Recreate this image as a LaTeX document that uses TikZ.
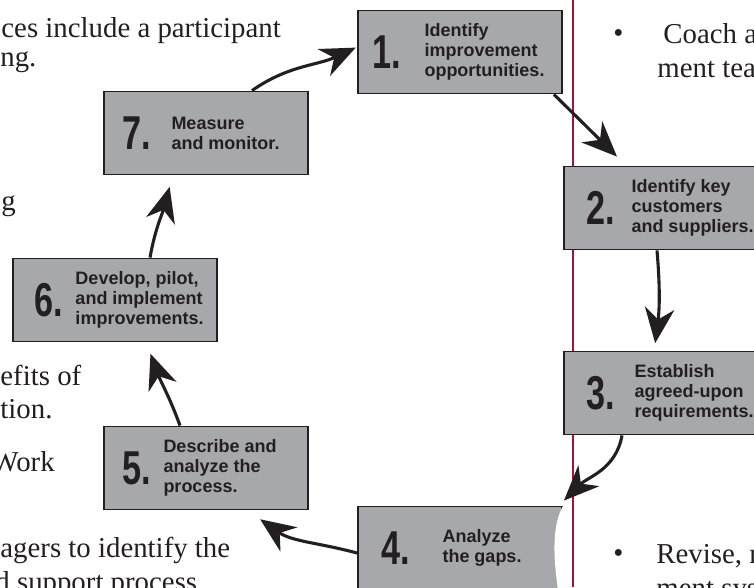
\documentclass[tikz,border=0pt]{standalone}
\usepackage{fontspec}
\setmainfont{Liberation Serif}
\newfontfamily\boxfont{Liberation Sans}
\newfontfamily\numfont{Liberation Sans}[FakeStretch=0.72]
\usetikzlibrary{arrows.meta,positioning}
\definecolor{boxgray}{RGB}{167,168,171}
\definecolor{rulered}{RGB}{165,20,50}
\definecolor{ink}{RGB}{35,31,32}

\begin{document}
\begin{tikzpicture}[x=0.025cm,y=-0.025cm,>={Stealth[length=25pt,width=21pt,inset=8pt]},
	semithick]
	\tikzstyle{stepbox}=[rectangle,fill=boxgray,draw=ink,line width=1.3pt,minimum width=5.1cm,minimum height=2.075cm,inner sep=0pt]
	\tikzstyle{stepnum}=[inner sep=0pt,text=ink,font=\numfont\bfseries\fontsize{33.8}{34}\selectfont]
	\tikzstyle{steptext}=[inner sep=0pt,align=left,text=ink,font=\boxfont\bfseries\fontsize{12.8}{14.2}\selectfont]
	\tikzstyle{page}=[inner sep=0pt,anchor=base west,text=ink,font=\fontsize{20.5}{20.5}\selectfont]
	\tikzstyle{flow}=[->,draw=ink,line width=2.2pt,shorten >=1pt]
	
	\useasboundingbox (0,0) rectangle (754,587);
	\clip (0,0) rectangle (754,587);
	
	% page behind the cycle
	\node[page] (l1) at (1,37) {ces include a participant};
	\node[page] (l2) at (0,66) {ng.};
	\node[page] (l3) at (1,210) {g};
	\node[page] (l4) at (0,385) {efits of};
	\node[page] (l5) at (0,418) {tion.};
	\node[page] (l6) at (-9,471) {Work};
	\node[page] (l7) at (0,557) {agers to identify the};
	\node[page] (l8) at (-5,591) {d support process};
	\node[page] (r1) at (613,42) {\textbullet};
	\node[page] (r2) at (663,43) {Coach a};
	\node[page] (r3) at (657,77) {ment tea};
	\node[page] (r4) at (613,562) {\textbullet};
	\node[page] (r5) at (656,563) {Revise, r};
	\node[page] (r6) at (656,597) {ment sys};
	\draw[rulered,line width=1.5pt] (573,0) -- (573,587);
	
	% the seven steps
	\node[stepbox] (b1) at (460,52) {};
	\node[stepbox] (b2) at (666,208) {};
	\node[stepbox] (b3) at (666,393) {};
	\node[stepbox] (b4) at (460,548) {};
	\node[stepbox] (b5) at (206,468) {};
	\node[stepbox] (b6) at (115,300) {};
	\node[stepbox] (b7) at (206,133) {};
	\fill[white] (563.5,505) .. controls (552,525) and (553,555) .. (558,590) -- (567,590) -- (567,505) -- cycle;
	
	\node[stepnum] (n1) [right=0.375cm of b1.west] {1.};
	\node[steptext] (t1) [right=1.675cm of b1.west] {Identify\\improvement\\opportunities.};
	\node[stepnum] (n2) [right=0.575cm of b2.west] {2.};
	\node[steptext] (t2) [right=1.7cm of b2.west] {Identify key\\customers\\and suppliers.};
	\node[stepnum] (n3) [right=0.575cm of b3.west] {3.};
	\node[steptext] (t3) [right=1.775cm of b3.west] {Establish\\agreed-upon\\requirements.};
	\node[stepnum] (n4) [right=0.6cm of b4.west] {4.};
	\node[steptext] (t4) [right=2.125cm of b4.west] {Analyze\\the gaps.};
	\node[stepnum] (n5) [right=0.475cm of b5.west] {5.};
	\node[steptext] (t5) [right=1.5cm of b5.west] {Describe and\\analyze the\\process.};
	\node[stepnum] (n6) [right=0.55cm of b6.west] {6.};
	\node[steptext] (t6) [right=1.575cm of b6.west] {Develop, pilot,\\and implement\\improvements.};
	\node[stepnum] (n7) [right=0.475cm of b7.west] {7.};
	\node[steptext] (t7) [right=1.7cm of b7.west] {Measure\\and monitor.};
	
	\path
	([xshift=1.15cm]b7.north) edge[flow,out=35,in=205] ([yshift=0.125cm]b1.west)
	([xshift=-0.225cm]b1.south east) edge[flow] ([xshift=-1.2cm,yshift=0.2cm]b2.north)
	([xshift=-0.225cm]b2.south) edge[flow,bend left=6] ([xshift=-0.275cm,yshift=0.15cm]b3.north)
	([xshift=-1.1cm]b3.south) edge[flow,out=-100,in=45] ([yshift=0.1cm]b4.north east)
	([yshift=-0.125cm]b4.west) edge[flow,out=165,in=-35] ([xshift=-1.25cm,yshift=-0.2cm]b5.south east)
	([xshift=-0.65cm]b5.north) edge[flow,out=110,in=-70] ([xshift=0.875cm,yshift=-0.25cm]b6.south)
	([xshift=0.875cm]b6.north) edge[flow,out=80,in=-105] ([xshift=-0.9cm,yshift=-0.25cm]b7.south)
	;
\end{tikzpicture}
\end{document}
